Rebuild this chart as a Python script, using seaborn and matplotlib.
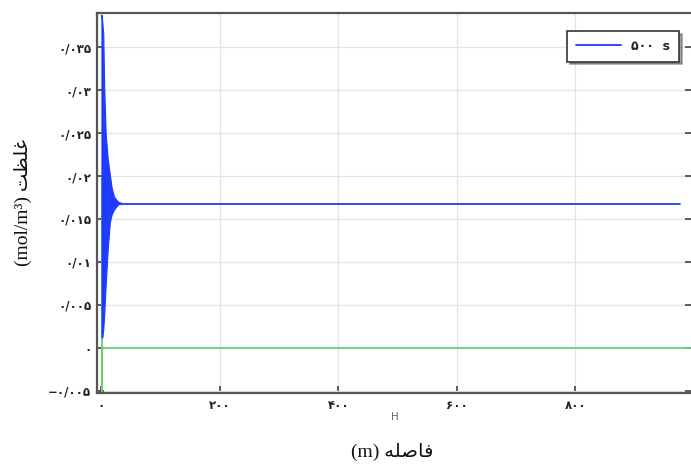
import matplotlib
matplotlib.use("Agg")
import matplotlib.pyplot as plt
import seaborn as sns
import pandas as pd

# Concentration profile at t = 500 s: the oscillating front near H = 0,
# given as upper / lower envelope, then the settled level along the domain.
front_x = [0, 1.5, 3, 4.5, 7, 10.5, 14, 17, 21, 28, 33]
front_upper = [0.0388, 0.0378, 0.0365, 0.0305, 0.0250, 0.0220, 0.0202, 0.0187, 0.0176, 0.0170, 0.0169]
front_lower = [0.0012, 0.0012, 0.0022, 0.0038, 0.0072, 0.0115, 0.0146, 0.0155, 0.0161, 0.0167, 0.0168]
profile_x = [33, 977]
profile_y = [0.0168, 0.0168]

# Reference line (initial state)
ref_x = [0.5, 0.5, 0.5, 1000]
ref_y = [0.02, -0.0053, 0.0, 0.0]

x_ticks = [0, 200, 400, 600, 800]
x_tick_labels = ["۰", "۲۰۰", "۴۰۰", "۶۰۰", "۸۰۰"]
y_ticks = [-0.005, 0, 0.005, 0.01, 0.015, 0.02, 0.025, 0.03, 0.035]
y_tick_labels = ["−۰/۰۰۵", "۰", "۰/۰۰۵", "۰/۰۱", "۰/۰۱۵", "۰/۰۲", "۰/۰۲۵", "۰/۰۳", "۰/۰۳۵"]

legend_label = "۵۰۰  s"
# Persian words written in presentation forms, visual (left-to-right) order
ylabel_text = "(mol/m³) \uFE96\uFEC8\uFEE0\uFECF"      # غلظت
xlabel_text = "(m) \uFEEA\uFEE0\uFEBB\uFE8E\uFED3"     # فاصله

sns.set_theme(style="whitegrid")
plt.rcParams["font.family"] = ["DejaVu Sans"]

blue = "#1e3cff"
green = "#6fcf6f"

W, H = 691, 468
fig = plt.figure(figsize=(W / 100, H / 100), dpi=100)
fig.patch.set_facecolor("white")
left, right, top, bottom = 96.7, 692.5, 12.7, 393.0
ax = fig.add_axes([left / W, 1 - bottom / H, (right - left) / W, (bottom - top) / H])
ax.set_facecolor("white")

# front region drawn as a filled band of the oscillation envelope
ax.fill_between(front_x, front_lower, front_upper, color=blue, lw=0.8, edgecolor=blue, zorder=3)

sns.lineplot(data=pd.DataFrame({"x": profile_x, "y": profile_y}), x="x", y="y",
             color=blue, lw=1.3, ax=ax, label=legend_label, zorder=4, sort=False)

ref = pd.DataFrame({"x": ref_x, "y": ref_y})
sns.lineplot(data=ref, x="x", y="y", color=green, lw=1.3, ax=ax, zorder=2,
             sort=False, estimator=None, legend=False)

ax.set_xlim(-8.1, 997.5)
ax.set_ylim(-0.00528, 0.03904)
ax.set_xticks(x_ticks)
ax.set_xticklabels(x_tick_labels, fontsize=8.5, fontweight="bold", color="#222222")
ax.set_yticks(y_ticks)
ax.set_yticklabels(y_tick_labels, fontsize=8.5, fontweight="bold", color="#222222")

ax.grid(True, color="#e4e4e4", lw=0.9)
ax.tick_params(direction="in", length=5, width=1.1, color="#333333",
               top=False, right=True, bottom=True, left=True, pad=4)
for s in ax.spines.values():
    s.set_color("#555555")
    s.set_linewidth(1.6)
    s.set_visible(True)

ax.set_xlabel("H", fontsize=7.5, color="#666666", labelpad=0)
ax.set_ylabel(ylabel_text, fontsize=14, family=["Liberation Serif", "DejaVu Sans"], color="#111111")
ax.yaxis.set_label_coords(-0.108, 0.5)

fig.text(392 / W, 1 - 452 / H, xlabel_text, fontsize=14, ha="center", va="center",
         family=["Liberation Serif", "DejaVu Sans"], color="#111111")

leg = ax.legend(loc="upper right", bbox_to_anchor=(0.9875, 0.968), fontsize=9,
                handlelength=3.6, handletextpad=0.8, frameon=True, fancybox=False,
                shadow=True, borderpad=0.7)
leg.get_frame().set_edgecolor("#333333")
leg.get_frame().set_linewidth(1.2)
for t in leg.get_texts():
    t.set_fontweight("bold")

fig.savefig("out.png", dpi=100)
